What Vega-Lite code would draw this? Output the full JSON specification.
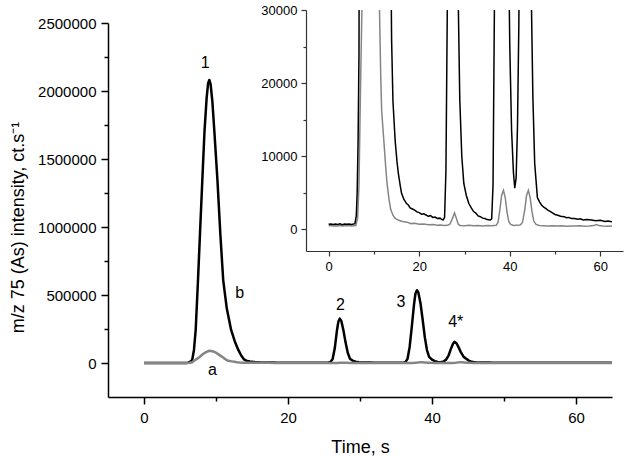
{
  "$schema": "https://vega.github.io/schema/vega-lite/v6.json",
  "autosize": "none",
  "width": 504,
  "height": 387,
  "padding": {"left": 108, "top": 10, "right": 17, "bottom": 63},
  "config": {"view": {"stroke": null}, "font": "Liberation Sans"},
  "datasets": {
    "black": [
      {"t":0,"v":650},{"t":0.5,"v":700},{"t":1,"v":620},{"t":1.5,"v":690},{"t":2,"v":640},{"t":2.5,"v":720},{"t":3,"v":600},{"t":3.5,"v":680},{"t":4,"v":650},{"t":4.5,"v":710},{"t":5,"v":630},{"t":5.5,"v":690},{"t":5.8,"v":750},
      {"t":6.1,"v":1800},{"t":6.3,"v":5000},{"t":6.5,"v":12000},{"t":6.7,"v":24000},{"t":6.94,"v":96000},{"t":7.18,"v":243000},{"t":7.5,"v":610000},{"t":7.8,"v":980000},{"t":8.1,"v":1345000},{"t":8.4,"v":1700000},{"t":8.7,"v":1950000},{"t":8.9,"v":2055000},{"t":9.07,"v":2081000},{"t":9.25,"v":2050000},{"t":9.5,"v":1920000},{"t":9.8,"v":1680000},{"t":10.2,"v":1345000},{"t":10.6,"v":950000},{"t":11.0,"v":610000},{"t":11.5,"v":400000},{"t":12.1,"v":243000},{"t":12.6,"v":160000},{"t":13.1,"v":96000},{"t":13.5,"v":55000},{"t":13.9,"v":26000},{"t":14.2,"v":17500},{"t":14.7,"v":12000},{"t":15.1,"v":9200},{"t":15.4,"v":7600},{"t":15.8,"v":6000},{"t":16.1,"v":4900},{"t":16.6,"v":4100},{"t":17.2,"v":3500},{"t":17.6,"v":3300},{"t":18.0,"v":2900},{"t":18.5,"v":2750},{"t":19.0,"v":2600},{"t":19.5,"v":2350},{"t":20.0,"v":2250},{"t":20.5,"v":2050},{"t":21.0,"v":2100},{"t":21.6,"v":1900},{"t":22.0,"v":1750},{"t":22.5,"v":1850},{"t":23.0,"v":1600},{"t":23.5,"v":1650},{"t":24.0,"v":1450},{"t":24.6,"v":1500},{"t":25.0,"v":1300},{"t":25.3,"v":1250},
      {"t":25.6,"v":1600},{"t":25.9,"v":8000},{"t":26.2,"v":30000},{"t":26.5,"v":110000},{"t":26.8,"v":240000},{"t":27.0,"v":305000},{"t":27.2,"v":326000},{"t":27.4,"v":310000},{"t":27.7,"v":240000},{"t":28.0,"v":150000},{"t":28.3,"v":75000},{"t":28.6,"v":32000},{"t":28.96,"v":17700},{"t":29.4,"v":10000},{"t":29.85,"v":6250},{"t":30.4,"v":4600},{"t":30.96,"v":3500},{"t":31.5,"v":2900},{"t":32.0,"v":2400},{"t":32.5,"v":2200},{"t":33.0,"v":1800},{"t":33.5,"v":1700},{"t":34.0,"v":1500},{"t":34.5,"v":1450},{"t":35.0,"v":1300},{"t":35.7,"v":1250},
      {"t":36.0,"v":1400},{"t":36.3,"v":6000},{"t":36.6,"v":30000},{"t":36.9,"v":120000},{"t":37.2,"v":270000},{"t":37.5,"v":430000},{"t":37.7,"v":510000},{"t":37.9,"v":535000},{"t":38.1,"v":520000},{"t":38.4,"v":440000},{"t":38.7,"v":320000},{"t":39.0,"v":190000},{"t":39.3,"v":95000},{"t":39.6,"v":45000},{"t":40.0,"v":25000},{"t":40.4,"v":13500},{"t":40.8,"v":7800},{"t":41.1,"v":5600},{"t":41.4,"v":7000},{"t":41.7,"v":14000},{"t":42.0,"v":28000},{"t":42.3,"v":55000},{"t":42.6,"v":100000},{"t":42.9,"v":140000},{"t":43.1,"v":155000},{"t":43.4,"v":145000},{"t":43.7,"v":115000},{"t":44.0,"v":80000},{"t":44.4,"v":45000},{"t":44.8,"v":30000},{"t":45.1,"v":18000},{"t":45.5,"v":9000},{"t":46.1,"v":4300},{"t":46.6,"v":3700},{"t":47.0,"v":3300},{"t":47.5,"v":3000},{"t":48.0,"v":2800},{"t":48.4,"v":2600},{"t":49.0,"v":2400},{"t":49.5,"v":2200},{"t":50.0,"v":2000},{"t":50.6,"v":1900},{"t":51.2,"v":1750},{"t":52.0,"v":1700},{"t":52.5,"v":1550},{"t":53.0,"v":1600},{"t":53.6,"v":1450},{"t":54.3,"v":1460},{"t":55.0,"v":1350},{"t":55.6,"v":1400},{"t":56.2,"v":1250},{"t":57.0,"v":1300},{"t":58.0,"v":1230},{"t":59.0,"v":1150},{"t":60.0,"v":1200},{"t":61.0,"v":1050},{"t":61.7,"v":1100},{"t":62.5,"v":1000},{"t":63.3,"v":1150},{"t":64.0,"v":1050},{"t":65.0,"v":1200}
    ],
    "gray": [
      {"t":0,"v":450},{"t":0.5,"v":480},{"t":1,"v":430},{"t":1.5,"v":470},{"t":2,"v":440},{"t":2.5,"v":490},{"t":3,"v":420},{"t":3.5,"v":460},{"t":4,"v":450},{"t":4.5,"v":480},{"t":5,"v":430},{"t":5.5,"v":470},{"t":6.0,"v":500},
      {"t":6.4,"v":1500},{"t":6.7,"v":6000},{"t":7.0,"v":18000},{"t":7.4,"v":32000},{"t":7.8,"v":48000},{"t":8.2,"v":66000},{"t":8.6,"v":80000},{"t":9.07,"v":90000},{"t":9.5,"v":87000},{"t":10.0,"v":76000},{"t":10.5,"v":58000},{"t":11.0,"v":40000},{"t":11.2,"v":31000},{"t":11.5,"v":21000},{"t":11.7,"v":16300},{"t":12.2,"v":12000},{"t":12.6,"v":8500},{"t":12.9,"v":6250},{"t":13.3,"v":4200},{"t":13.7,"v":2700},{"t":14.2,"v":1900},{"t":14.7,"v":1450},{"t":15.5,"v":1200},{"t":16.3,"v":1050},{"t":17.3,"v":950},{"t":18.2,"v":750},{"t":19.0,"v":800},{"t":20.0,"v":650},{"t":21.0,"v":700},{"t":22.0,"v":580},{"t":23.0,"v":620},{"t":24.0,"v":520},{"t":24.7,"v":560},{"t":25.5,"v":480},{"t":26.3,"v":520},
      {"t":26.8,"v":700},{"t":27.3,"v":1400},{"t":27.8,"v":2200},{"t":28.2,"v":1500},{"t":28.6,"v":700},{"t":29.0,"v":500},{"t":30.0,"v":460},{"t":31.0,"v":520},{"t":32.0,"v":450},{"t":33.0,"v":500},{"t":34.0,"v":430},{"t":35.0,"v":480},{"t":36.0,"v":450},{"t":37.0,"v":520},
      {"t":37.4,"v":900},{"t":37.8,"v":2600},{"t":38.2,"v":4600},{"t":38.6,"v":5300},{"t":39.0,"v":4300},{"t":39.4,"v":2300},{"t":39.8,"v":1000},{"t":40.2,"v":650},{"t":40.8,"v":500},{"t":41.5,"v":520},{"t":42.3,"v":550},
      {"t":42.8,"v":900},{"t":43.3,"v":2600},{"t":43.7,"v":4600},{"t":44.1,"v":5300},{"t":44.5,"v":4300},{"t":44.9,"v":2400},{"t":45.3,"v":1100},{"t":45.8,"v":650},{"t":46.5,"v":500},{"t":47.5,"v":470},{"t":48.5,"v":430},{"t":49.5,"v":470},{"t":50.5,"v":410},{"t":51.5,"v":450},{"t":52.5,"v":400},{"t":53.5,"v":440},{"t":54.5,"v":410},{"t":55.5,"v":450},{"t":56.5,"v":400},{"t":57.5,"v":430},{"t":58.5,"v":480},{"t":59.1,"v":620},{"t":59.7,"v":480},{"t":60.5,"v":420},{"t":61.5,"v":400},{"t":62.5,"v":430},{"t":63.5,"v":390},{"t":64.5,"v":420},{"t":65.0,"v":400}
    ],
    "labels": [
      {"t":8.5,"v":2209000,"label":"1"},
      {"t":13.3,"v":515000,"label":"b"},
      {"t":9.5,"v":-55000,"label":"a"},
      {"t":27.3,"v":424000,"label":"2"},
      {"t":35.7,"v":448000,"label":"3"},
      {"t":43.3,"v":301000,"label":"4*"}
    ]
  },
  "layer": [
    {
      "encoding": {
        "x": {
          "field": "t", "type": "quantitative", "title": "Time, s",
          "scale": {"domain": [-5, 65], "nice": false, "zero": false},
          "axis": {
            "values": [0, 10, 20, 30, 40, 50, 60],
            "labelExpr": "datum.value % 20 === 0 ? datum.label : ''",
            "tickSize": {"condition": {"test": "datum.value % 20 === 0", "value": 7}, "value": 4},
            "labelPadding": 6, "labelFontSize": 15, "labelFont": "Liberation Sans", "labelColor": "#000",
            "titleFont": "Liberation Sans", "titleFontSize": 18, "titleFontWeight": "normal", "titleColor": "#000",
            "titleY": 55, "titleBaseline": "alphabetic",
            "grid": false, "domainColor": "#000", "domainWidth": 1.5, "tickColor": "#000", "tickWidth": 1.5,
            "labelFlush": false, "labelOverlap": false
          }
        },
        "y": {
          "field": "v", "type": "quantitative", "title": "m/z 75 (As) intensity, ct.s⁻¹",
          "scale": {"domain": [-250000, 2500000], "nice": false, "zero": false, "range": [387, 13]},
          "axis": {
            "values": [0, 250000, 500000, 750000, 1000000, 1250000, 1500000, 1750000, 2000000, 2250000, 2500000],
            "format": "d",
            "labelExpr": "datum.value % 500000 === 0 ? datum.label : ''",
            "tickSize": {"condition": {"test": "datum.value % 500000 === 0", "value": 7}, "value": 4},
            "labelPadding": 5, "labelFontSize": 15, "labelFont": "Liberation Sans", "labelColor": "#000",
            "titleFont": "Liberation Sans", "titleFontSize": 18, "titleFontWeight": "normal", "titleColor": "#000",
            "titleX": -85, "titleY": 217, "titleBaseline": "alphabetic", "titleAlign": "center",
            "grid": false, "domainColor": "#000", "domainWidth": 1.5, "tickColor": "#000", "tickWidth": 1.5,
            "labelFlush": false, "labelOverlap": false
          }
        }
      },
      "layer": [
        {"data": {"name": "black"}, "mark": {"type": "line", "stroke": "#000000", "strokeWidth": 2.5, "strokeJoin": "round"}},
        {"data": {"name": "gray"}, "mark": {"type": "line", "stroke": "#858585", "strokeWidth": 2.5, "strokeJoin": "round"}},
        {"data": {"name": "labels"}, "mark": {"type": "text", "fontSize": 16, "font": "Liberation Sans", "color": "#000", "align": "center", "baseline": "middle"},
         "encoding": {"text": {"field": "label"}}}
      ]
    },
    {
      "encoding": {
        "x": {
          "field": "t", "type": "quantitative", "title": null,
          "scale": {"domain": [-5, 65], "nice": false, "zero": false, "range": [198, 515]},
          "axis": {
            "orient": "bottom", "offset": -146,
            "values": [0, 10, 20, 30, 40, 50, 60],
            "labelExpr": "datum.value % 20 === 0 ? datum.label : ''",
            "tickSize": {"condition": {"test": "datum.value % 20 === 0", "value": 5}, "value": 3},
            "labelPadding": 4, "labelFontSize": 13, "labelFont": "Liberation Sans", "labelColor": "#000",
            "grid": false, "domainColor": "#333", "domainWidth": 1.2, "tickColor": "#333", "tickWidth": 1.2,
            "labelFlush": false, "labelOverlap": false
          }
        },
        "y": {
          "field": "v", "type": "quantitative", "title": null,
          "scale": {"domain": [-3000, 30000], "nice": false, "zero": false, "range": [241, 0]},
          "axis": {
            "orient": "left", "offset": -198,
            "values": [0, 5000, 10000, 15000, 20000, 25000, 30000],
            "format": "d",
            "labelExpr": "datum.value % 10000 === 0 ? datum.label : ''",
            "tickSize": {"condition": {"test": "datum.value % 10000 === 0", "value": 5}, "value": 3},
            "labelPadding": 4, "labelFontSize": 13, "labelFont": "Liberation Sans", "labelColor": "#000",
            "grid": false, "domainColor": "#333", "domainWidth": 1.2, "tickColor": "#333", "tickWidth": 1.2,
            "labelFlush": false, "labelOverlap": false
          }
        }
      },
      "layer": [
        {"data": {"name": "gray"}, "mark": {"type": "line", "stroke": "#858585", "strokeWidth": 1.5, "clip": true}},
        {"data": {"name": "black"}, "mark": {"type": "line", "stroke": "#000000", "strokeWidth": 1.5, "clip": true}}
      ]
    }
  ],
  "resolve": {"scale": {"x": "independent", "y": "independent"}}
}
